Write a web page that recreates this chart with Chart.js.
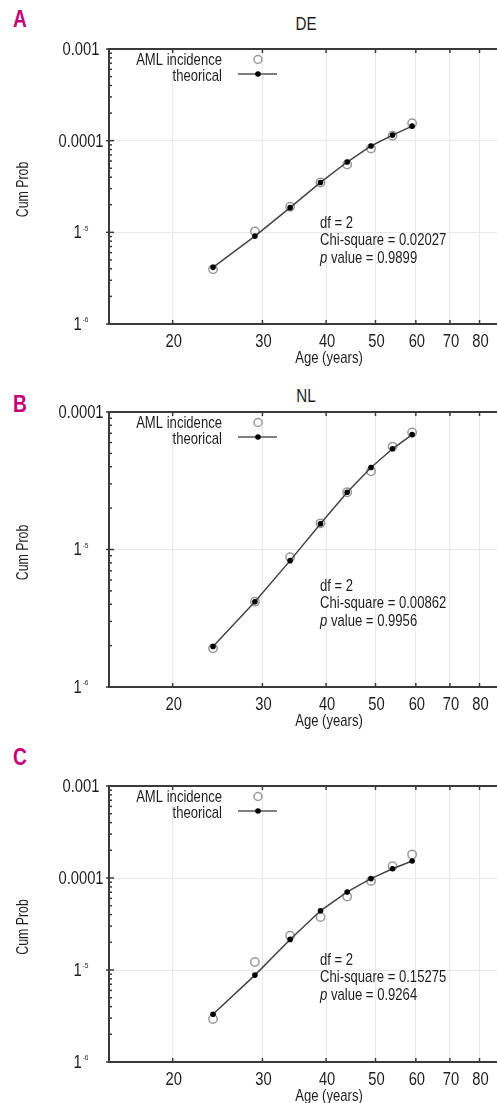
<!DOCTYPE html>
<html>
<head>
<meta charset="utf-8">
<script src="https://cdn.jsdelivr.net/npm/chart.js@4"></script>
<style>
  html, body { margin: 0; padding: 0; background: #fff; overflow: hidden; }
  body { width: 497px; height: 1103px; position: relative; }
  .panel { position: absolute; left: 0; }
  .letter {
    position: absolute; left: 13px; color: #c4007a; transform: scaleX(0.8); transform-origin: left;
    font: bold 24px "Liberation Sans", Arial, sans-serif; line-height: 24px;
  }
  .title {
    position: absolute; left: 306px; transform: translateX(-50%) scaleX(0.8); color: #1e1e1e;
    font: 19px "Liberation Sans", Arial, sans-serif; line-height: 19px;
  }
</style>
</head>
<body>
<div class="letter" style="top:7px">A</div>
<div class="title" style="top:14px">DE</div>
<div class="letter" style="top:392px">B</div>
<div class="title" style="top:386px">NL</div>
<div class="letter" style="top:745px">C</div>

<canvas id="chartA" class="panel" style="top:0px"></canvas>
<canvas id="chartB" class="panel" style="top:370px"></canvas>
<canvas id="chartC" class="panel" style="top:740px"></canvas>

<script>
const FONT = '"Liberation Sans", Arial, sans-serif';
const SQUEEZE = 0.77; // condensed look of the original typeface
const TICK_SQUEEZE = 0.82;

// age group midpoints (x axis, log scale)
const ages = [24, 29, 34, 39, 44, 49, 54, 59];
const xTicks = [20, 30, 40, 50, 60, 70, 80];

// y tick labels (the original prints 1e-5 as "1" with a tiny "-5")
const yTickValues = [1e-6, 1e-5, 1e-4, 1e-3];
const yTickBase = ["1", "1", "0.0001", "0.001"];
const yTickSup = ["-6", "-5", "", ""];

// panel A - DE
const deAml = [3.95e-6, 1.025e-5, 1.9e-5, 3.5e-5, 5.5e-5, 8.2e-5, 1.13e-4, 1.55e-4];
const deTheo = [4.15e-6, 9.1e-6, 1.86e-5, 3.5e-5, 5.85e-5, 8.75e-5, 1.15e-4, 1.44e-4];
const deStats = ["2", "0.02027", "0.9899"];

// panel B - NL
const nlAml = [1.91e-6, 4.17e-6, 8.8e-6, 1.55e-5, 2.61e-5, 3.7e-5, 5.6e-5, 7.1e-5];
const nlTheo = [1.97e-6, 4.17e-6, 8.3e-6, 1.54e-5, 2.61e-5, 3.95e-5, 5.4e-5, 6.85e-5];
const nlStats = ["2", "0.00862", "0.9956"];

// panel C
const cAml = [2.93e-6, 1.22e-5, 2.36e-5, 3.77e-5, 6.3e-5, 9.3e-5, 1.34e-4, 1.8e-4];
const cTheo = [3.3e-6, 8.8e-6, 2.15e-5, 4.4e-5, 7.05e-5, 9.85e-5, 1.26e-4, 1.53e-4];
const cStats = ["2", "0.15275", "0.9264"];

function line(ctx, x1, y1, x2, y2) {
  ctx.beginPath();
  ctx.moveTo(x1, y1);
  ctx.lineTo(x2, y2);
  ctx.stroke();
}

function textWidth(ctx, str, size, style = "", squeeze = SQUEEZE) {
  ctx.font = style + " " + size + "px " + FONT;
  return ctx.measureText(str).width * squeeze;
}

function drawText(ctx, str, x, y, size, opt = {}) {
  ctx.save();
  ctx.fillStyle = "#1e1e1e";
  ctx.font = (opt.style || "") + " " + size + "px " + FONT;
  ctx.textAlign = opt.align || "left";
  ctx.textBaseline = "middle";
  ctx.translate(x, y);
  if (opt.rotate) ctx.rotate(opt.rotate);
  ctx.scale(opt.squeeze || SQUEEZE, 1);
  ctx.fillText(str, 0, 0);
  ctx.restore();
}

const frame = {
  id: "frame",
  afterDraw(chart, args, opts) {
    const { ctx, chartArea: a, scales } = chart;
    const x = scales.x;
    const y = scales.y;
    const tick = { squeeze: TICK_SQUEEZE };
    ctx.save();
    ctx.strokeStyle = "#3a3a3a";
    ctx.lineWidth = 1.5;

    xTicks.forEach((t) => {
      const px = x.getPixelForValue(t);
      line(ctx, px, a.bottom, px, a.bottom - 4);
      line(ctx, px, a.top, px, a.top + 4);
      drawText(ctx, String(t), px + 1, a.bottom + 18, 18, { align: "center", ...tick });
    });

    for (let d = y.min; d < y.max * 0.999; d *= 10) {
      for (let k = 2; k <= 9; k++) {
        const py = y.getPixelForValue(d * k);
        line(ctx, a.left, py, a.left + 3, py);
      }
    }
    yTickValues.forEach((v, i) => {
      if (v < y.min * 0.999 || v > y.max * 1.001) return;
      const py = y.getPixelForValue(v);
      line(ctx, a.left - 3, py, a.left + 5, py);
      const wb = textWidth(ctx, yTickBase[i], 18, "", TICK_SQUEEZE);
      const ws = yTickSup[i] ? textWidth(ctx, yTickSup[i], 8, "", TICK_SQUEEZE) + 1 : 0;
      const left = a.left - 28 - (wb + ws) / 2;
      drawText(ctx, yTickBase[i], left, py + 1, 18, tick);
      if (yTickSup[i]) drawText(ctx, yTickSup[i], left + wb + 1, py - 4, 8, tick);
    });

    ctx.lineWidth = 2;
    ctx.beginPath();
    ctx.moveTo(chart.width, a.top);
    ctx.lineTo(a.left, a.top);
    ctx.lineTo(a.left, a.bottom);
    ctx.lineTo(chart.width, a.bottom);
    ctx.stroke();

    // axis titles
    drawText(ctx, "Age (years)", 329, a.bottom + 34, 17, { align: "center" });
    drawText(ctx, "Cum Prob", 24, (a.top + a.bottom) / 2 + 3, 16, { align: "center", rotate: -Math.PI / 2 });

    // legend
    drawText(ctx, "AML incidence", a.left + 113, a.top + 11, 17, { align: "right" });
    drawText(ctx, "theorical", a.left + 113, a.top + 27, 17, { align: "right" });
    ctx.strokeStyle = "#999";
    ctx.lineWidth = 1.5;
    ctx.beginPath();
    ctx.arc(a.left + 149, a.top + 10.5, 4, 0, Math.PI * 2);
    ctx.stroke();
    ctx.strokeStyle = "#555";
    line(ctx, a.left + 129, a.top + 25, a.left + 168, a.top + 25);
    ctx.fillStyle = "#000";
    ctx.beginPath();
    ctx.arc(a.left + 149, a.top + 25, 2.8, 0, Math.PI * 2);
    ctx.fill();

    // fit statistics
    const sx = a.left + 211;
    const sy = a.top + 174;
    drawText(ctx, "df = " + opts.stats[0], sx, sy, 17);
    drawText(ctx, "Chi-square = " + opts.stats[1], sx, sy + 17.5, 17);
    drawText(ctx, "p", sx, sy + 35, 17, { style: "italic" });
    const pw = textWidth(ctx, "p", 17, "italic");
    drawText(ctx, " value = " + opts.stats[2], sx + pw, sy + 35, 17);
    ctx.restore();
  },
};

function makePanel(id, aml, theo, stats, yMin, yMax, plotTop, plotBottom, height) {
  const canvas = document.getElementById(id);
  canvas.width = 560;
  canvas.height = height;
  canvas.style.width = "560px";
  canvas.style.height = height + "px";

  new Chart(canvas, {
    type: "line",
    data: {
      datasets: [
        {
          label: "theorical",
          data: ages.map((a, i) => ({ x: a, y: theo[i] })),
          borderColor: "#444",
          borderWidth: 1.5,
          pointRadius: 2.8,
          pointBackgroundColor: "#000",
          pointBorderWidth: 0,
          tension: 0,
        },
        {
          label: "AML incidence",
          data: ages.map((a, i) => ({ x: a, y: aml[i] })),
          showLine: false,
          pointRadius: 4.2,
          pointBorderColor: "#999",
          pointBorderWidth: 1.5,
          pointBackgroundColor: "rgba(255,255,255,0)",
        },
      ],
    },
    options: {
      responsive: false,
      animation: false,
      devicePixelRatio: 1,
      layout: { padding: { top: plotTop, right: 10, left: 0, bottom: 0 } },
      plugins: {
        legend: { display: false },
        tooltip: { enabled: false },
        frame: { stats },
      },
      scales: {
        x: {
          type: "logarithmic",
          min: 15,
          max: 110,
          afterBuildTicks: (s) => { s.ticks = xTicks.map((v) => ({ value: v })); },
          afterFit: (s) => { s.height = height - plotBottom; },
          ticks: { display: false },
          grid: { color: "#e8e8e8", drawTicks: false },
          border: { display: false },
        },
        y: {
          type: "logarithmic",
          min: yMin,
          max: yMax,
          afterBuildTicks: (s) => {
            s.ticks = yTickValues.filter((v) => v >= yMin * 0.999 && v <= yMax * 1.001).map((v) => ({ value: v }));
          },
          afterFit: (s) => { s.width = 109; },
          ticks: { display: false },
          grid: { color: "#e8e8e8", drawTicks: false },
          border: { display: false },
        },
      },
    },
    plugins: [frame],
  });
}

makePanel("chartA", deAml, deTheo, deStats, 1e-6, 1e-3, 49, 324, 370);
makePanel("chartB", nlAml, nlTheo, nlStats, 1e-6, 1e-4, 42, 317, 364);
makePanel("chartC", cAml, cTheo, cStats, 1e-6, 1e-3, 46, 322, 365);
</script>
</body>
</html>
